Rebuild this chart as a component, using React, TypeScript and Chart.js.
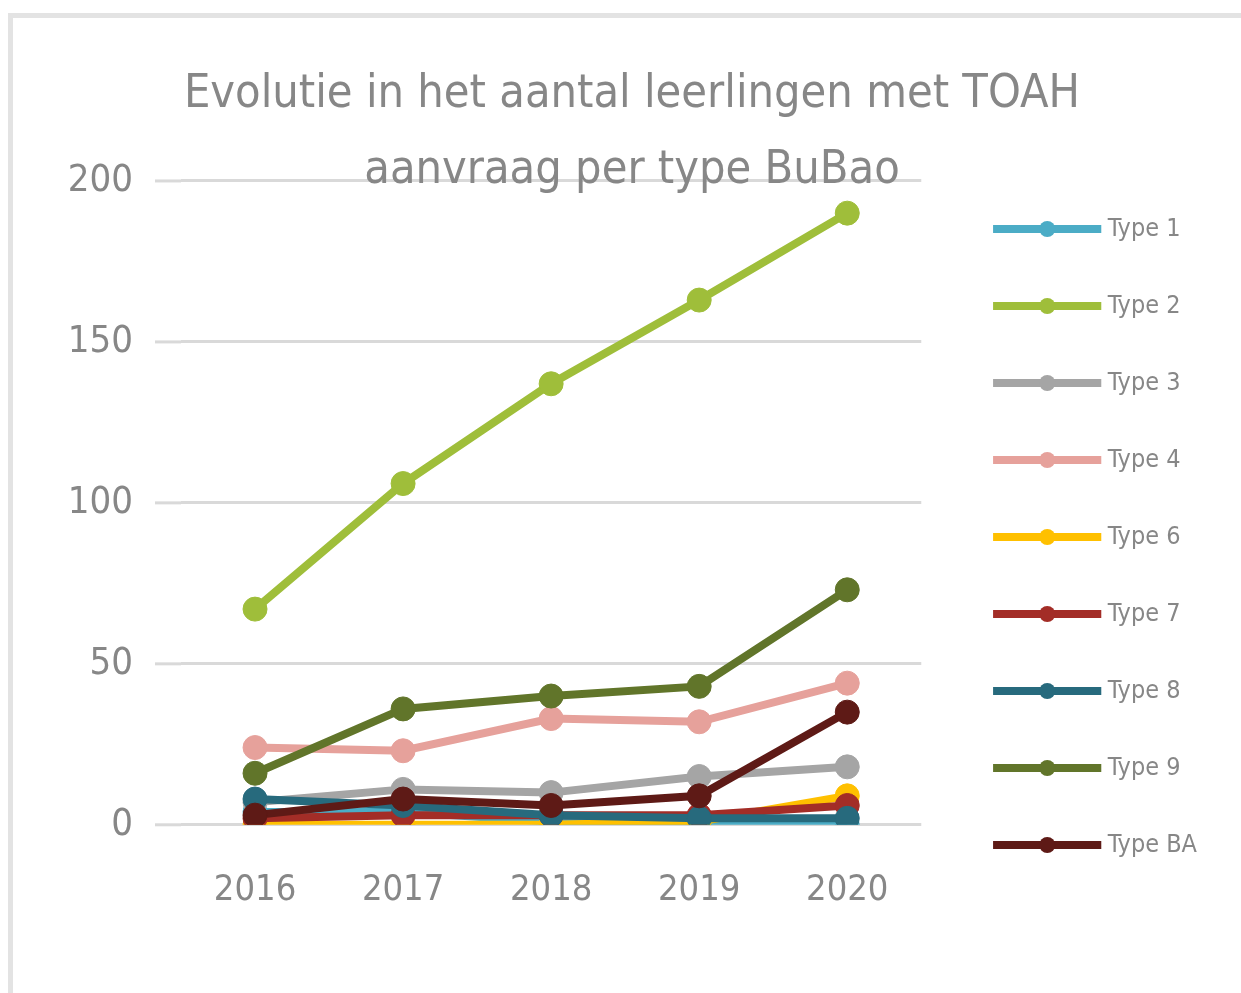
import React, { useEffect, useRef } from "react";
import { Chart, registerables } from "chart.js";

Chart.register(...registerables);

const years = ["2016", "2017", "2018", "2019", "2020"];
const seriesNames = ["Type 1", "Type 2", "Type 3", "Type 4", "Type 6", "Type 7", "Type 8", "Type 9", "Type BA"];
const type1 = [4, 4, 1, 0, 0];
const type2 = [67, 106, 137, 163, 190];
const type3 = [7, 11, 10, 15, 18];
const type4 = [24, 23, 33, 32, 44];
const type6 = [0, 0, 0, 1, 9];
const type7 = [2, 3, 3, 3, 6];
const type8 = [8, 6, 3, 2, 2];
const type9 = [16, 36, 40, 43, 73];
const typeBA = [3, 8, 6, 9, 35];
const seriesValues = [type1, type2, type3, type4, type6, type7, type8, type9, typeBA];
const seriesColors = ["#4BACC6", "#9FBE3A", "#A5A5A5", "#E6A19B", "#FFC000", "#A32D27", "#276A7D", "#61752A", "#5E1A16"];
const yTicks = [0, 50, 100, 150, 200];
const titleLines = ["Evolutie in het aantal leerlingen met TOAH", "aanvraag per type BuBao"];

const FONT = '"DejaVu Sans Condensed", "Liberation Sans Narrow", sans-serif';
const TEXT = "#878787";
const LEGEND_LINE = 108;

const extrasPlugin = {
  id: "extras",
  beforeDatasetsDraw(chart: any) {
    const ctx = chart.ctx;
    const y = chart.scales.y;
    const area = chart.chartArea;
    ctx.save();
    ctx.strokeStyle = "#d9d9d9";
    ctx.lineWidth = 3;
    yTicks.forEach((v) => {
      const py = y.getPixelForValue(v);
      ctx.beginPath();
      ctx.moveTo(area.left - 26, py);
      ctx.lineTo(area.left, py);
      ctx.stroke();
    });
    ctx.restore();
  },
  afterDraw(chart: any) {
    const legend = chart.legend;
    if (!legend || !legend.legendHitBoxes) return;
    const ctx = chart.ctx;
    const fs = legend.options.labels.font.size;
    ctx.save();
    legend.legendHitBoxes.forEach((hb: any, i: number) => {
      const item = legend.legendItems[i];
      const cy = hb.top + fs / 2;
      ctx.fillStyle = item.strokeStyle;
      ctx.fillRect(hb.left, cy - 4, LEGEND_LINE, 8);
      ctx.beginPath();
      ctx.arc(hb.left + LEGEND_LINE / 2, cy, 8, 0, Math.PI * 2);
      ctx.fill();
    });
    ctx.restore();
  },
};

export default function App() {
  const ref = useRef<HTMLCanvasElement>(null);
  useEffect(() => {
    if (!ref.current) return;
    const datasets = seriesNames.map((name, i) => ({
      label: name,
      data: seriesValues[i],
      borderColor: seriesColors[i],
      backgroundColor: seriesColors[i],
      pointBackgroundColor: seriesColors[i],
      pointBorderColor: seriesColors[i],
      pointRadius: 12,
      pointBorderWidth: 1,
      borderWidth: 8,
      tension: 0,
      order: seriesNames.length - 1 - i,
    }));
    const chart = new Chart(ref.current, {
      type: "line",
      data: { labels: years, datasets },
      plugins: [extrasPlugin],
      options: {
        animation: false,
        responsive: false,
        layout: { padding: { left: 57, right: 34, top: 0, bottom: 45 } },
        plugins: {
          title: {
            display: true,
            text: titleLines,
            color: TEXT,
            font: { family: FONT, size: 46.5, weight: "normal", lineHeight: 1.634 },
            padding: { top: 57, bottom: -28 },
          },
          legend: {
            position: "right",
            reverse: true,
            maxWidth: 400,
            title: { display: true, text: " ", font: { size: 10, lineHeight: 1.2 }, padding: { top: 57, bottom: 57 } },
            labels: {
              boxWidth: 102,
              boxHeight: 8,
              padding: 52,
              color: TEXT,
              font: { family: FONT, size: 25 },
              generateLabels: (c: any) =>
                (Chart.defaults.plugins.legend.labels as any).generateLabels(c).map((it: any) => ({
                  ...it,
                  lineWidth: 0,
                })),
            },
          },
          tooltip: { enabled: false },
        },
        scales: {
          x: {
            offset: true,
            grid: { display: false },
            border: { display: false },
            ticks: { color: TEXT, font: { family: FONT, size: 36 }, padding: 36, maxRotation: 0 },
          },
          y: {
            min: 0,
            max: 200,
            ticks: { stepSize: 50, color: TEXT, font: { family: FONT, size: 38 }, padding: 48 },
            grid: { color: "#d9d9d9", lineWidth: 3, drawTicks: false },
            border: { display: false },
            afterFit: (s: any) => {
              s.width = 124;
            },
          },
          y2: {
            position: "right",
            grid: { display: false },
            border: { display: false },
            ticks: { display: false },
            afterFit: (s: any) => {
              s.width = 20;
            },
          },
        },
      } as any,
    });
    return () => chart.destroy();
  }, []);
  return (
    <div style={{ position: "fixed", left: 0, top: 0, width: 1241, height: 993, background: "#fff" }}>
      <canvas ref={ref} width={1241} height={993} style={{ position: "absolute", left: 0, top: 0 }} />
      <div style={{ position: "absolute", left: 9, top: 13, width: 1232, height: 5, background: "#e3e3e3" }} />
      <div style={{ position: "absolute", left: 8, top: 13, width: 5, height: 980, background: "#e3e3e3" }} />
    </div>
  );
}
